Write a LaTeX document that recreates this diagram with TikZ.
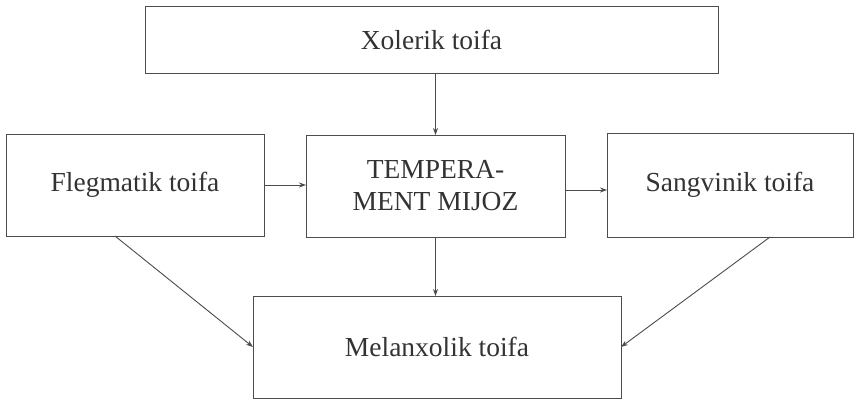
\documentclass[tikz,border=0pt]{standalone}
\usepackage{fontspec}
\setmainfont{Liberation Serif}
\usetikzlibrary{arrows.meta}
\begin{document}
\begin{tikzpicture}[x=1pt,y=-1pt,
  box/.style={draw=black!70,line width=1pt,inner sep=0pt,outer sep=0pt,
    font=\fontsize{27.5}{32}\selectfont,text=black!80,align=center},
  arr/.style={draw=black!70,line width=0.9pt,-{Stealth[length=7pt,width=5pt]}}]
\useasboundingbox[fill=white] (0,0) rectangle (858,400);
\node[box,minimum width=573pt,minimum height=67pt] (X) at (431.5,39.5) {Xolerik toifa};
\node[box,minimum width=258pt,minimum height=102pt] (F) at (135,185) {Flegmatik toifa};
\node[box,minimum width=259pt,minimum height=102pt] (T) at (435.5,186) {TEMPERA-\\MENT MIJOZ};
\node[box,minimum width=246pt,minimum height=104pt] (S) at (730,185) {Sangvinik toifa};
\node[box,minimum width=368pt,minimum height=102pt] (M) at (437,347) {Melanxolik toifa};
\draw[arr] (X.south -| T.north) -- (T.north);
\draw[arr] (F.east) -- (F.east -| T.west);
\draw[arr] ([yshift=-4pt]T.east) -- ([yshift=-4pt]T.east -| S.west);
\draw[arr] (T.south) -- (T.south |- M.north);
\draw[arr] ([xshift=-20pt]F.south) -- (M.west);
\draw[arr] ([xshift=40pt]S.south) -- (M.east);
\end{tikzpicture}
\end{document}
